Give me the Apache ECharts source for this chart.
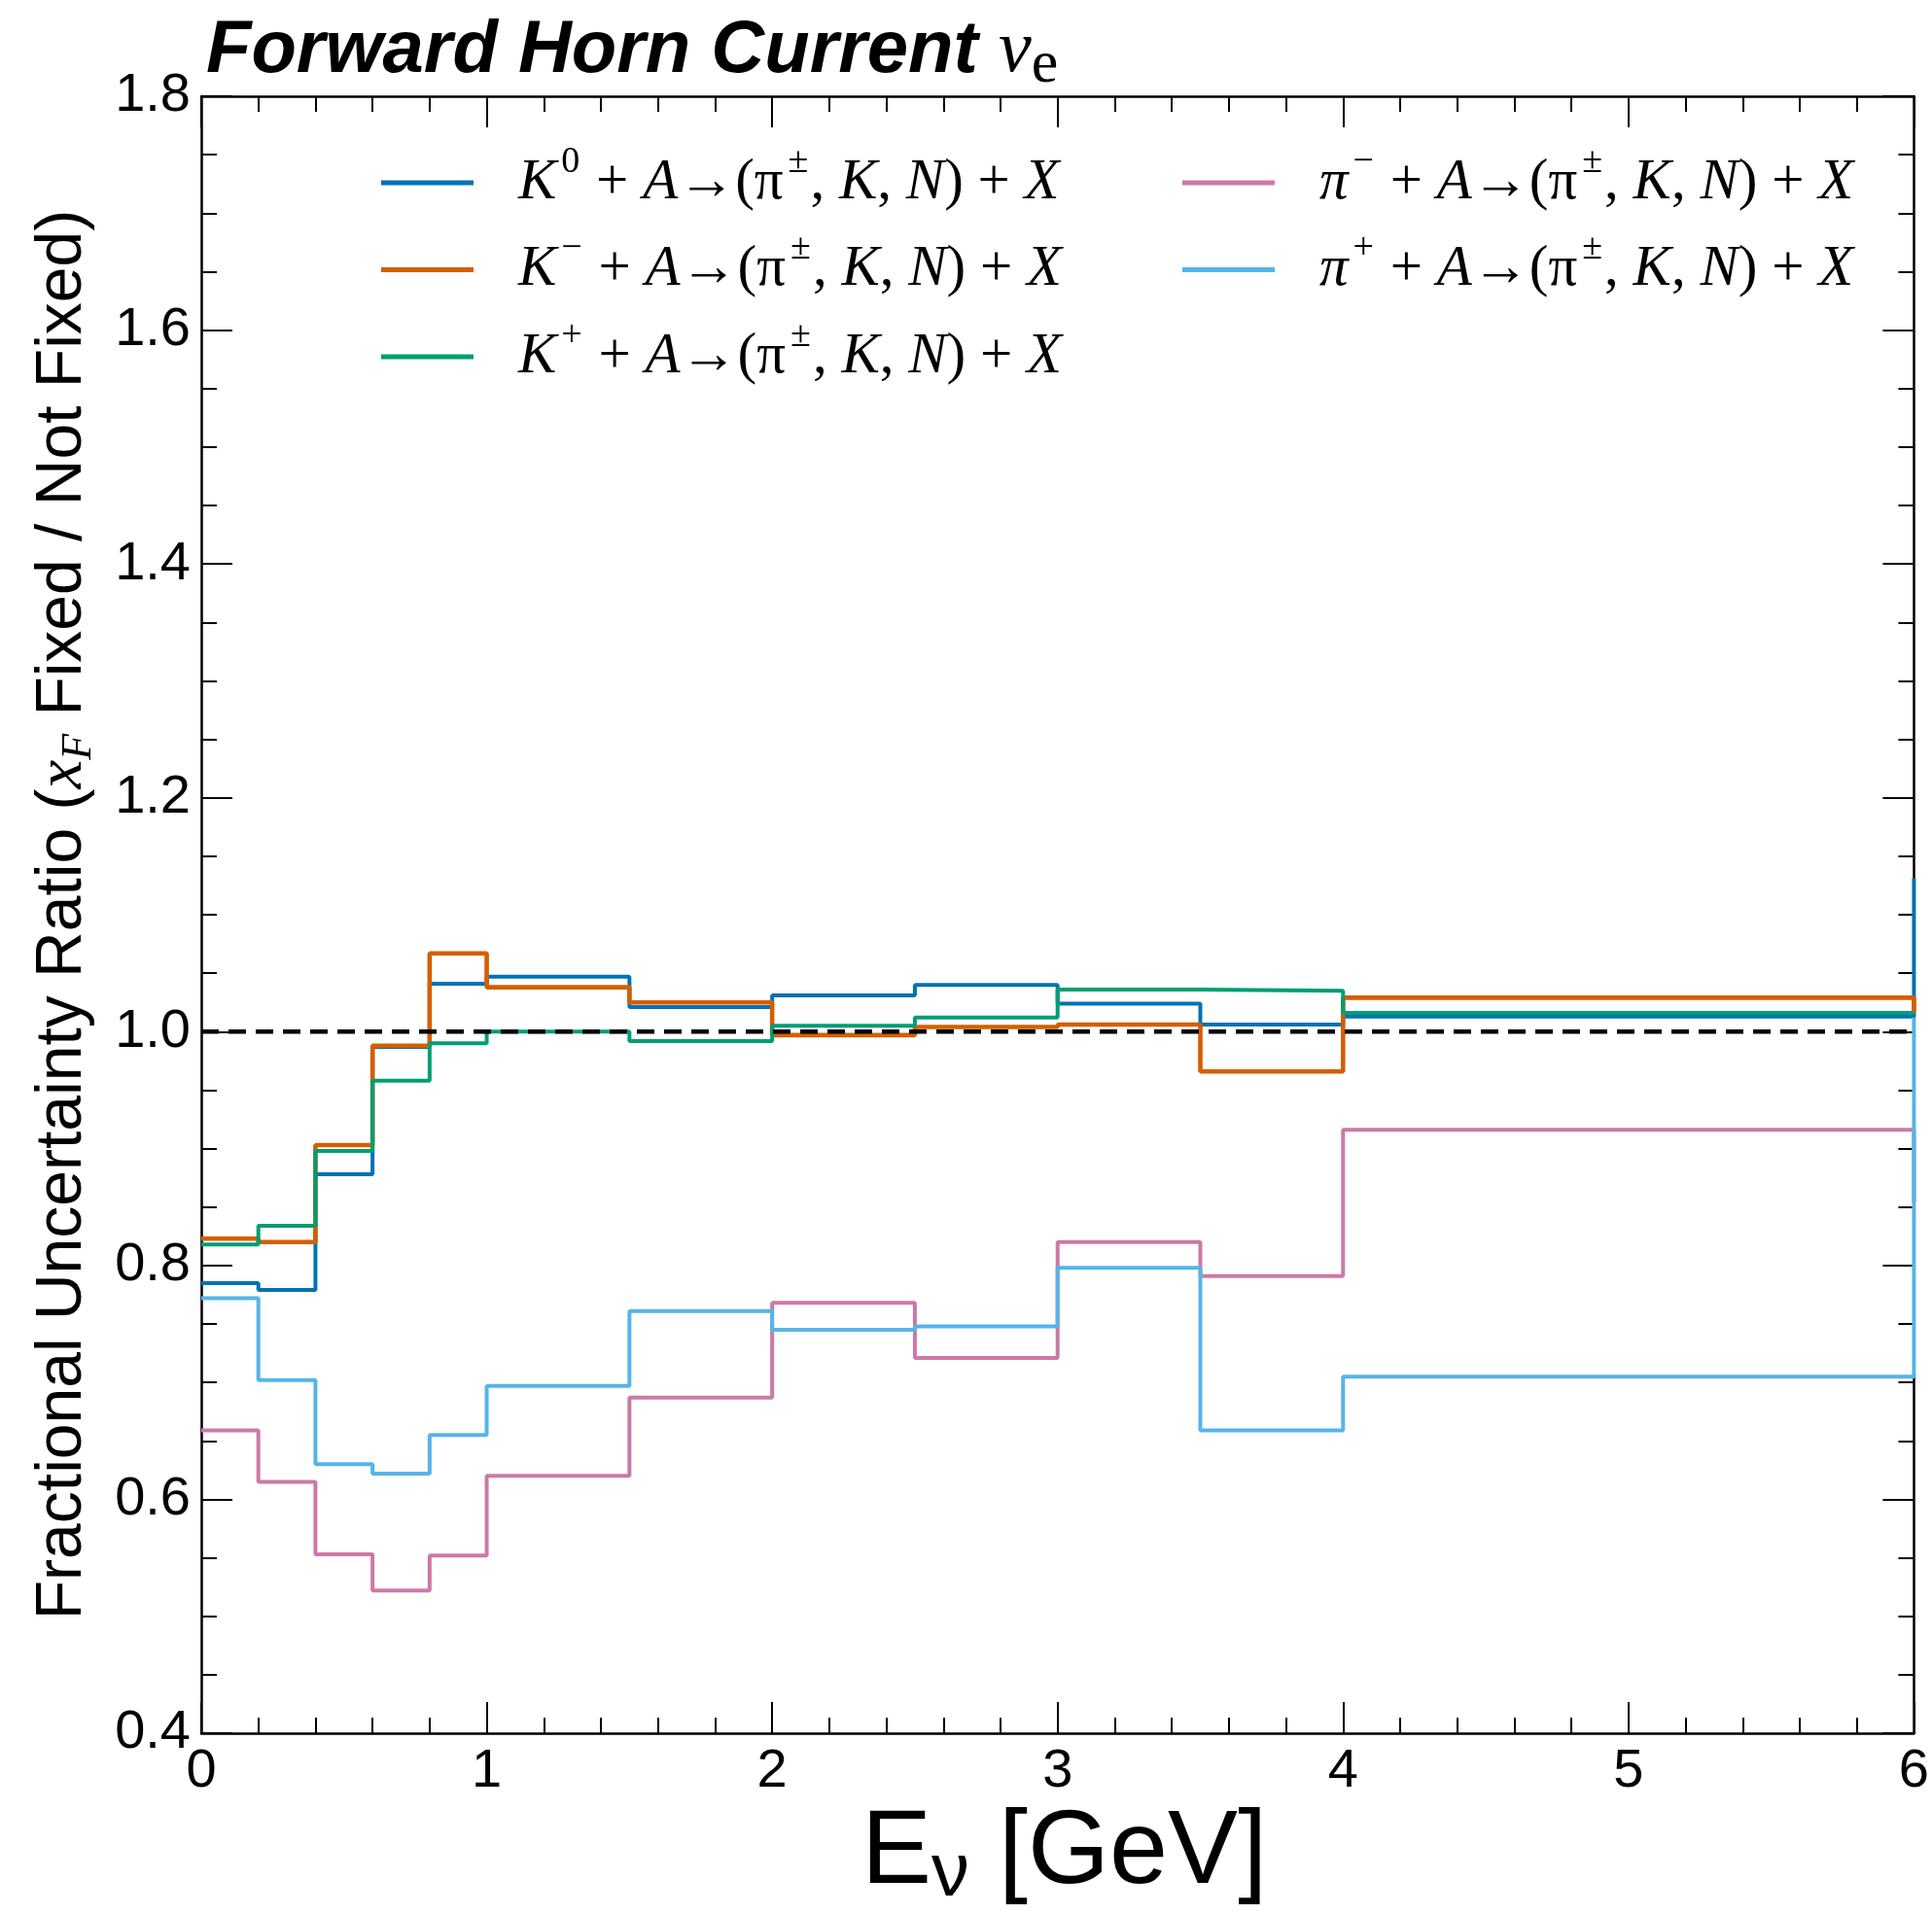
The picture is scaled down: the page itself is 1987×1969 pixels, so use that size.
<!DOCTYPE html>
<html><head><meta charset="utf-8">
<script src="https://cdn.jsdelivr.net/npm/echarts@6/dist/echarts.min.js"></script>
<style>html,body{margin:0;padding:0;background:#fff}#c{width:1987px;height:1969px}</style>
</head><body><div id="c"></div>
<script>
// ---- data ----
const binEdges = [0, 0.2, 0.4, 0.6, 0.8, 1.0, 1.5, 2.0, 2.5, 3.0, 3.5, 4.0, 6.0];
const k0Values    = [0.785, 0.779, 0.878, 0.987, 1.041, 1.047, 1.021, 1.031, 1.040, 1.024, 1.006, 1.013];
const kMinusValues = [0.823, 0.820, 0.903, 0.988, 1.067, 1.038, 1.025, 0.997, 1.004, 1.006, 0.966, 1.029];
const kPlusValues  = [0.818, 0.834, 0.898, 0.958, 0.990, 1.000, 0.992, 1.005, 1.012, 1.036, 1.035, 1.016];
const piMinusValues = [0.659, 0.615, 0.553, 0.522, 0.552, 0.620, 0.687, 0.768, 0.721, 0.820, 0.791, 0.916];
const piPlusValues  = [0.772, 0.702, 0.630, 0.622, 0.655, 0.697, 0.761, 0.745, 0.748, 0.798, 0.659, 0.705];
// values of the next (overflow) bin, seen only as vertical edge at x = 6
const k0Tail = [1.131];
const kMinusTail = [1.016];
const kPlusTail = [];
const piMinusTail = [0.854];
const piPlusTail = [1.012];

const seriesNames = [
  'K0 + A → (π±, K, N) + X',
  'K− + A → (π±, K, N) + X',
  'K+ + A → (π±, K, N) + X',
  'π− + A → (π±, K, N) + X',
  'π+ + A → (π±, K, N) + X'
];
const legendRichText = [
  '{gap| }{it|K}{sup|0}{op| + }{it|A}{op|→(π}{sup|±}{op|, }{it|K}{op|, }{it|N}{op|) + }{it|X}',
  '{gap| }{it|K}{sup|−}{op| + }{it|A}{op|→(π}{sup|±}{op|, }{it|K}{op|, }{it|N}{op|) + }{it|X}',
  '{gap| }{it|K}{sup|+}{op| + }{it|A}{op|→(π}{sup|±}{op|, }{it|K}{op|, }{it|N}{op|) + }{it|X}',
  '{gap| }{it|π}{sup|−}{op| + }{it|A}{op|→(π}{sup|±}{op|, }{it|K}{op|, }{it|N}{op|) + }{it|X}',
  '{gap| }{it|π}{sup|+}{op| + }{it|A}{op|→(π}{sup|±}{op|, }{it|K}{op|, }{it|N}{op|) + }{it|X}'
];
const seriesValues = [k0Values, kMinusValues, kPlusValues, piMinusValues, piPlusValues];
const seriesTails = [k0Tail, kMinusTail, kPlusTail, piMinusTail, piPlusTail];
const seriesColors = ['#0072B2', '#D55E00', '#009E73', '#CC79A7', '#56B4E9'];
const seriesWidths = [4, 4.6, 4, 4, 4];
const referenceLine = [[0, 1.0], [6, 1.0]];
const xTickValues = [0, 1, 2, 3, 4, 5, 6];
const yTickLabels = ['0.4', '0.6', '0.8', '1.0', '1.2', '1.4', '1.6', '1.8'];

// ---- build ----
function stepPoints(vals, tail) {
  const pts = [];
  for (let i = 0; i < vals.length; i++) {
    pts.push([binEdges[i], vals[i]]);
    pts.push([binEdges[i + 1], vals[i]]);
  }
  const lastEdge = binEdges[binEdges.length - 1];
  tail.forEach(t => pts.push([lastEdge, t]));
  return pts;
}

const legendRich = {
  gap: { width: 41, fontSize: 10, lineHeight: 80 },
  it: { fontFamily: 'Liberation Serif', fontStyle: 'italic', fontSize: 59, lineHeight: 80, color: '#000' },
  op: { fontFamily: 'Liberation Serif', fontSize: 59, lineHeight: 80, color: '#000' },
  sup: { fontFamily: 'Liberation Serif', fontSize: 38, lineHeight: 56, verticalAlign: 'top', padding: [0, 2, 0, 5], color: '#000' }
};

const tickCommon = {
  axisLine: { show: true, onZero: false, lineStyle: { color: '#000', width: 2.5 } },
  axisTick: { show: true, inside: true, length: 32, lineStyle: { color: '#000', width: 2 } },
  minorTick: { show: true, length: 16, lineStyle: { color: '#000', width: 2 } },
  splitLine: { show: false },
  minorSplitLine: { show: false }
};

const chart = echarts.init(document.getElementById('c'), null, { renderer: 'canvas' });

const series = seriesNames.map((name, i) => ({
  type: 'line',
  name: name,
  data: stepPoints(seriesValues[i], seriesTails[i]),
  showSymbol: false,
  symbol: 'none',
  clip: true,
  z: 2,
  color: seriesColors[i],
  lineStyle: { color: seriesColors[i], width: seriesWidths[i] },
  itemStyle: { color: seriesColors[i] },
  emphasis: { disabled: true }
}));
series.push({
  type: 'line',
  name: 'ref',
  data: referenceLine,
  showSymbol: false,
  symbol: 'none',
  z: 3,
  lineStyle: { color: '#000', width: 4.5, type: [18, 10] },
  emphasis: { disabled: true }
});

const legendCommon = {
  orient: 'vertical', top: 143,
  itemWidth: 95, itemHeight: 5, itemGap: 20, icon: 'rect', selectedMode: false,
  formatter: n => legendRichText[seriesNames.indexOf(n)],
  textStyle: { rich: legendRich }
};

const option = {
  backgroundColor: '#fff',
  animation: false,
  title: [
    {
      left: 207, top: 2,
      text: '{b|Forward Horn Current }{nu|ν}{sub|e}',
      textStyle: {
        fontWeight: 'normal',
        rich: {
          b: { fontFamily: 'Liberation Sans', fontWeight: 'bold', fontStyle: 'italic', fontSize: 76, lineHeight: 92, color: '#000' },
          nu: { fontFamily: 'Liberation Serif', fontWeight: 'normal', fontStyle: 'italic', fontSize: 76, lineHeight: 92, color: '#000' },
          sub: { fontFamily: 'Liberation Serif', fontWeight: 'normal', fontStyle: 'normal', fontSize: 62, lineHeight: 62, verticalAlign: 'bottom', color: '#000' }
        }
      }
    },
    {
      // x-axis title
      left: 881, top: 1842,
      text: '{n|E}{s|ν}{n| [GeV]}',
      textStyle: {
        fontWeight: 'normal',
        rich: {
          n: { fontFamily: 'Liberation Sans', fontWeight: 'normal', fontSize: 108, lineHeight: 120, color: '#000' },
          s: { fontFamily: 'Liberation Sans', fontWeight: 'normal', fontSize: 78, lineHeight: 20, verticalAlign: 'bottom', color: '#000' }
        }
      }
    }
  ],
  grid: { left: 207, right: 16, top: 99, bottom: 186, containLabel: false },
  legend: [
    Object.assign({ data: seriesNames.slice(0, 3), left: 387 }, legendCommon),
    Object.assign({ data: seriesNames.slice(3), left: 1211 }, legendCommon)
  ],
  xAxis: [
    Object.assign({
      type: 'value', min: 0, max: 6, interval: 1, position: 'bottom',
      axisLabel: {
        show: true, margin: 12, fontFamily: 'Liberation Sans', fontSize: 56, color: '#000',
        formatter: v => (xTickValues.indexOf(Math.round(v)) >= 0 ? String(Math.round(v)) : '')
      }
    }, tickCommon, { minorTick: Object.assign({}, tickCommon.minorTick, { splitNumber: 5 }) }),
    Object.assign({
      type: 'value', min: 0, max: 6, interval: 1, position: 'top',
      axisLabel: { show: false }
    }, tickCommon, { minorTick: Object.assign({}, tickCommon.minorTick, { splitNumber: 5 }) })
  ],
  yAxis: [
    Object.assign({
      type: 'value', min: 0.4, max: 1.8, interval: 0.2, position: 'left',
      name: '{n|Fractional Uncertainty Ratio (}{x|x}{f|F}{n| Fixed / Not Fixed)}',
      nameLocation: 'middle', nameGap: 104, nameRotate: 90,
      nameTextStyle: {
        rich: {
          n: { fontFamily: 'Liberation Sans', fontSize: 66, lineHeight: 76, color: '#000' },
          x: { fontFamily: 'Liberation Serif', fontStyle: 'italic', fontSize: 67, lineHeight: 76, color: '#000' },
          f: { fontFamily: 'Liberation Serif', fontStyle: 'italic', fontSize: 44, lineHeight: 56, verticalAlign: 'bottom', color: '#000' }
        }
      },
      axisLabel: {
        show: true, margin: 11, fontFamily: 'Liberation Sans', fontSize: 56, color: '#000',
        formatter: v => yTickLabels[Math.round((v - 0.4) / 0.2)] || ''
      }
    }, tickCommon, { minorTick: Object.assign({}, tickCommon.minorTick, { splitNumber: 4 }) }),
    Object.assign({
      type: 'value', min: 0.4, max: 1.8, interval: 0.2, position: 'right',
      axisLabel: { show: false }
    }, tickCommon, { minorTick: Object.assign({}, tickCommon.minorTick, { splitNumber: 4 }) })
  ],
  series: series
};
chart.setOption(option);
</script>
</body></html>
